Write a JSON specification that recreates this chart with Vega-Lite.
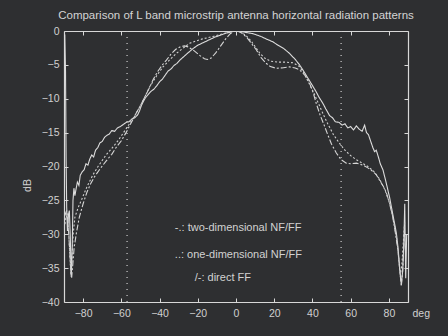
{
  "$schema": "https://vega.github.io/schema/vega-lite/v6.json",
  "width": 344,
  "height": 271,
  "autosize": {"type": "none"},
  "padding": {"left": 64, "top": 31, "right": 40, "bottom": 34},
  "background": "#2e2f31",
  "title": {"text": "Comparison of L band microstrip antenna horizontal radiation patterns", "color": "#d4d4d4", "font": "Liberation Sans", "fontSize": 11.5, "fontWeight": "normal", "offset": 5, "anchor": "middle"},
  "config": {
    "view": {"stroke": null},
    "axis": {"domainColor": "#d8d8d8", "tickColor": "#d8d8d8", "labelColor": "#d0d0d0", "titleColor": "#d0d0d0", "labelFont": "Liberation Sans", "titleFont": "Liberation Sans", "labelFontSize": 10.5, "titleFontSize": 10.5, "titleFontWeight": "normal", "grid": false, "tickSize": -4, "domainWidth": 1.2}
  },
  "datasets": {
    "curves": [
      {"s": "direct", "x": -89.6, "y": -0.5}, {"s": "direct", "x": -89.2, "y": -6}, {"s": "direct", "x": -88.9, "y": -18.5}, {"s": "direct", "x": -88.6, "y": -26}, {"s": "direct", "x": -88.2, "y": -29.5}, {"s": "direct", "x": -87.6, "y": -27}, {"s": "direct", "x": -87.2, "y": -26.5}, {"s": "direct", "x": -86.7, "y": -30.5}, {"s": "direct", "x": -86.2, "y": -36.3}, {"s": "direct", "x": -85.7, "y": -32}, {"s": "direct", "x": -85.3, "y": -25}, {"s": "direct", "x": -84.8, "y": -23.2}, {"s": "direct", "x": -84.3, "y": -24.3}, {"s": "direct", "x": -83.8, "y": -23.5}, {"s": "direct", "x": -83, "y": -22.3}, {"s": "direct", "x": -82.2, "y": -22.8}, {"s": "direct", "x": -81.5, "y": -21.3}, {"s": "direct", "x": -80.5, "y": -20.8}, {"s": "direct", "x": -79.5, "y": -20.5}, {"s": "direct", "x": -78.5, "y": -19.6}, {"s": "direct", "x": -77.5, "y": -19.8}, {"s": "direct", "x": -76.5, "y": -18.9}, {"s": "direct", "x": -75.5, "y": -18.3}, {"s": "direct", "x": -74.5, "y": -18.6}, {"s": "direct", "x": -73.5, "y": -17.6}, {"s": "direct", "x": -72.3, "y": -17.2}, {"s": "direct", "x": -71.2, "y": -16.5}, {"s": "direct", "x": -70, "y": -16.3}, {"s": "direct", "x": -68.8, "y": -15.7}, {"s": "direct", "x": -67.6, "y": -15.4}, {"s": "direct", "x": -66.3, "y": -15.2}, {"s": "direct", "x": -65, "y": -14.7}, {"s": "direct", "x": -63.5, "y": -14.8}, {"s": "direct", "x": -62, "y": -14.3}, {"s": "direct", "x": -60.5, "y": -14.1}, {"s": "direct", "x": -59, "y": -13.8}, {"s": "direct", "x": -57.5, "y": -13.5}, {"s": "direct", "x": -56, "y": -13.4}, {"s": "direct", "x": -54.5, "y": -13.0}, {"s": "direct", "x": -53, "y": -12.8}, {"s": "direct", "x": -51.5, "y": -12.4}, {"s": "direct", "x": -50.5, "y": -11.8}, {"s": "direct", "x": -49.5, "y": -11.0}, {"s": "direct", "x": -48.5, "y": -10.4}, {"s": "direct", "x": -47.5, "y": -9.9}, {"s": "direct", "x": -46, "y": -9.4}, {"s": "direct", "x": -44.5, "y": -8.9}, {"s": "direct", "x": -43, "y": -8.6}, {"s": "direct", "x": -41.5, "y": -8.1}, {"s": "direct", "x": -40, "y": -7.5}, {"s": "direct", "x": -38.5, "y": -7.1}, {"s": "direct", "x": -37, "y": -6.5}, {"s": "direct", "x": -35.5, "y": -5.9}, {"s": "direct", "x": -34, "y": -5.6}, {"s": "direct", "x": -32.5, "y": -5.1}, {"s": "direct", "x": -31, "y": -4.8}, {"s": "direct", "x": -29, "y": -4.2}, {"s": "direct", "x": -27, "y": -3.7}, {"s": "direct", "x": -25, "y": -3.2}, {"s": "direct", "x": -22.5, "y": -2.6}, {"s": "direct", "x": -20, "y": -2.1}, {"s": "direct", "x": -17, "y": -1.7}, {"s": "direct", "x": -14, "y": -1.3}, {"s": "direct", "x": -11, "y": -0.9}, {"s": "direct", "x": -8, "y": -0.6}, {"s": "direct", "x": -5, "y": -0.3}, {"s": "direct", "x": -2, "y": -0.1}, {"s": "direct", "x": 0, "y": 0},
      {"s": "direct", "x": 2, "y": -0.05}, {"s": "direct", "x": 5, "y": -0.2}, {"s": "direct", "x": 9, "y": -0.4}, {"s": "direct", "x": 13, "y": -0.8}, {"s": "direct", "x": 16, "y": -1.2}, {"s": "direct", "x": 19.3, "y": -1.6}, {"s": "direct", "x": 22, "y": -2.1}, {"s": "direct", "x": 25, "y": -2.6}, {"s": "direct", "x": 28, "y": -3.3}, {"s": "direct", "x": 31, "y": -4.2}, {"s": "direct", "x": 33, "y": -4.9}, {"s": "direct", "x": 35, "y": -5.75}, {"s": "direct", "x": 37.5, "y": -6.9}, {"s": "direct", "x": 40.3, "y": -8.2}, {"s": "direct", "x": 42, "y": -9.0}, {"s": "direct", "x": 43.5, "y": -9.8}, {"s": "direct", "x": 45.5, "y": -10.7}, {"s": "direct", "x": 47, "y": -11.5}, {"s": "direct", "x": 49, "y": -12.5}, {"s": "direct", "x": 50.5, "y": -12.8}, {"s": "direct", "x": 52, "y": -13.4}, {"s": "direct", "x": 54, "y": -13.5}, {"s": "direct", "x": 55.5, "y": -13.9}, {"s": "direct", "x": 57, "y": -13.7}, {"s": "direct", "x": 58.5, "y": -14.3}, {"s": "direct", "x": 60, "y": -14.1}, {"s": "direct", "x": 61.5, "y": -14.6}, {"s": "direct", "x": 63, "y": -14.0}, {"s": "direct", "x": 64.5, "y": -14.5}, {"s": "direct", "x": 66, "y": -14.8}, {"s": "direct", "x": 67.3, "y": -13.9}, {"s": "direct", "x": 68.3, "y": -15.0}, {"s": "direct", "x": 69.3, "y": -15.3}, {"s": "direct", "x": 70.5, "y": -16.3}, {"s": "direct", "x": 71.6, "y": -17.2}, {"s": "direct", "x": 72.5, "y": -17.8}, {"s": "direct", "x": 73.4, "y": -17.6}, {"s": "direct", "x": 74.5, "y": -18.6}, {"s": "direct", "x": 75.5, "y": -19.6}, {"s": "direct", "x": 76.9, "y": -20.5}, {"s": "direct", "x": 78.5, "y": -22.3}, {"s": "direct", "x": 80.4, "y": -24.6}, {"s": "direct", "x": 82, "y": -27}, {"s": "direct", "x": 83.9, "y": -29.8}, {"s": "direct", "x": 84.8, "y": -32}, {"s": "direct", "x": 85.6, "y": -35}, {"s": "direct", "x": 86.5, "y": -37.4}, {"s": "direct", "x": 87.2, "y": -35.5}, {"s": "direct", "x": 87.8, "y": -31.5}, {"s": "direct", "x": 88.3, "y": -25.5}, {"s": "direct", "x": 88.8, "y": -36.5}, {"s": "direct", "x": 89.3, "y": -30},
      {"s": "two", "x": -90, "y": -29}, {"s": "two", "x": -89.3, "y": -27}, {"s": "two", "x": -88.6, "y": -26.5}, {"s": "two", "x": -88, "y": -28}, {"s": "two", "x": -87.3, "y": -31}, {"s": "two", "x": -86.6, "y": -34.5}, {"s": "two", "x": -86, "y": -36.4}, {"s": "two", "x": -85.4, "y": -34.5}, {"s": "two", "x": -84.7, "y": -32}, {"s": "two", "x": -83.5, "y": -29.8}, {"s": "two", "x": -82, "y": -27.5}, {"s": "two", "x": -80, "y": -25.5}, {"s": "two", "x": -78, "y": -23.8}, {"s": "two", "x": -76, "y": -22.5}, {"s": "two", "x": -74, "y": -21.5}, {"s": "two", "x": -71, "y": -20.3}, {"s": "two", "x": -68, "y": -19.2}, {"s": "two", "x": -65, "y": -18.2}, {"s": "two", "x": -62.5, "y": -17.1}, {"s": "two", "x": -60, "y": -16.2}, {"s": "two", "x": -57.5, "y": -15.0}, {"s": "two", "x": -55.5, "y": -13.9}, {"s": "two", "x": -54, "y": -13.1}, {"s": "two", "x": -52, "y": -12.0}, {"s": "two", "x": -50, "y": -11.0}, {"s": "two", "x": -48, "y": -9.9}, {"s": "two", "x": -45.5, "y": -8.5}, {"s": "two", "x": -43.4, "y": -7.2}, {"s": "two", "x": -41, "y": -6.0}, {"s": "two", "x": -38.5, "y": -5.0}, {"s": "two", "x": -36.4, "y": -4.3}, {"s": "two", "x": -34, "y": -3.4}, {"s": "two", "x": -31.5, "y": -2.7}, {"s": "two", "x": -29, "y": -2.3}, {"s": "two", "x": -27, "y": -2.2}, {"s": "two", "x": -25, "y": -2.35}, {"s": "two", "x": -22, "y": -2.9}, {"s": "two", "x": -19, "y": -3.6}, {"s": "two", "x": -16.5, "y": -4.1}, {"s": "two", "x": -15, "y": -4.2}, {"s": "two", "x": -13, "y": -4.0}, {"s": "two", "x": -10.5, "y": -3.2}, {"s": "two", "x": -8, "y": -2.2}, {"s": "two", "x": -5.5, "y": -1.2}, {"s": "two", "x": -3, "y": -0.4}, {"s": "two", "x": -1, "y": 0},
      {"s": "two", "x": 1, "y": -0.05}, {"s": "two", "x": 3, "y": -0.3}, {"s": "two", "x": 5.5, "y": -0.9}, {"s": "two", "x": 8, "y": -1.8}, {"s": "two", "x": 10.7, "y": -2.8}, {"s": "two", "x": 13, "y": -3.9}, {"s": "two", "x": 15.9, "y": -4.8}, {"s": "two", "x": 18, "y": -5.25}, {"s": "two", "x": 21, "y": -5.5}, {"s": "two", "x": 24, "y": -5.45}, {"s": "two", "x": 28, "y": -5.3}, {"s": "two", "x": 31, "y": -5.45}, {"s": "two", "x": 33.3, "y": -5.75}, {"s": "two", "x": 36, "y": -6.5}, {"s": "two", "x": 38.5, "y": -7.7}, {"s": "two", "x": 40.5, "y": -9.2}, {"s": "two", "x": 42, "y": -10.7}, {"s": "two", "x": 44, "y": -12.4}, {"s": "two", "x": 46, "y": -13.8}, {"s": "two", "x": 48, "y": -15.3}, {"s": "two", "x": 50, "y": -16.7}, {"s": "two", "x": 52.5, "y": -18.0}, {"s": "two", "x": 55, "y": -19.0}, {"s": "two", "x": 57.7, "y": -19.5}, {"s": "two", "x": 60, "y": -19.6}, {"s": "two", "x": 63, "y": -19.5}, {"s": "two", "x": 66.4, "y": -19.8}, {"s": "two", "x": 69, "y": -20.2}, {"s": "two", "x": 71.5, "y": -20.7}, {"s": "two", "x": 73.4, "y": -21.2}, {"s": "two", "x": 75.5, "y": -22.2}, {"s": "two", "x": 77.2, "y": -23}, {"s": "two", "x": 78.6, "y": -23.8}, {"s": "two", "x": 80.4, "y": -25.5}, {"s": "two", "x": 82.1, "y": -27.6}, {"s": "two", "x": 83.4, "y": -29.8}, {"s": "two", "x": 84.7, "y": -32.3}, {"s": "two", "x": 85.6, "y": -35}, {"s": "two", "x": 86.5, "y": -37.7}, {"s": "two", "x": 87.3, "y": -35}, {"s": "two", "x": 88, "y": -30},
      {"s": "one", "x": -89.5, "y": -28.5}, {"s": "one", "x": -88.8, "y": -27.3}, {"s": "one", "x": -88.2, "y": -27.8}, {"s": "one", "x": -87.5, "y": -30}, {"s": "one", "x": -86.9, "y": -33.5}, {"s": "one", "x": -86.4, "y": -36.0}, {"s": "one", "x": -85.9, "y": -34}, {"s": "one", "x": -85.2, "y": -30}, {"s": "one", "x": -84.3, "y": -27.5}, {"s": "one", "x": -82.5, "y": -26}, {"s": "one", "x": -80.8, "y": -24.9}, {"s": "one", "x": -78, "y": -23}, {"s": "one", "x": -75, "y": -21.3}, {"s": "one", "x": -72.2, "y": -20}, {"s": "one", "x": -68, "y": -18.3}, {"s": "one", "x": -64.3, "y": -17.1}, {"s": "one", "x": -61.5, "y": -16.1}, {"s": "one", "x": -59.1, "y": -15.1}, {"s": "one", "x": -55.5, "y": -13.6}, {"s": "one", "x": -52.1, "y": -12.1}, {"s": "one", "x": -48.5, "y": -10.2}, {"s": "one", "x": -45.1, "y": -8.2}, {"s": "one", "x": -41.5, "y": -6.6}, {"s": "one", "x": -38.2, "y": -5.3}, {"s": "one", "x": -34.5, "y": -4.2}, {"s": "one", "x": -31.2, "y": -3.3}, {"s": "one", "x": -27.5, "y": -2.5}, {"s": "one", "x": -24.2, "y": -1.8}, {"s": "one", "x": -18, "y": -1.2}, {"s": "one", "x": -12, "y": -0.8}, {"s": "one", "x": -6, "y": -0.35}, {"s": "one", "x": -1.7, "y": 0},
      {"s": "one", "x": 2, "y": -0.1}, {"s": "one", "x": 5, "y": -0.6}, {"s": "one", "x": 8, "y": -1.5}, {"s": "one", "x": 10.5, "y": -2.5}, {"s": "one", "x": 12.5, "y": -3.3}, {"s": "one", "x": 15, "y": -4.0}, {"s": "one", "x": 18, "y": -4.45}, {"s": "one", "x": 22, "y": -4.6}, {"s": "one", "x": 26, "y": -4.6}, {"s": "one", "x": 30, "y": -4.7}, {"s": "one", "x": 33, "y": -5.2}, {"s": "one", "x": 35.5, "y": -6.2}, {"s": "one", "x": 38, "y": -7.6}, {"s": "one", "x": 40.5, "y": -9.0}, {"s": "one", "x": 43, "y": -10.6}, {"s": "one", "x": 45.5, "y": -12.2}, {"s": "one", "x": 48, "y": -13.7}, {"s": "one", "x": 51, "y": -15.3}, {"s": "one", "x": 54.2, "y": -16.6}, {"s": "one", "x": 57, "y": -17.6}, {"s": "one", "x": 60, "y": -18.4}, {"s": "one", "x": 63, "y": -19.0}, {"s": "one", "x": 66, "y": -19.5}, {"s": "one", "x": 69, "y": -20}, {"s": "one", "x": 72, "y": -20.7}, {"s": "one", "x": 75, "y": -21.8}, {"s": "one", "x": 78, "y": -23.5}, {"s": "one", "x": 80.5, "y": -25.5}, {"s": "one", "x": 82.5, "y": -28}, {"s": "one", "x": 84, "y": -30.5}, {"s": "one", "x": 85.2, "y": -33.5}, {"s": "one", "x": 86, "y": -36}, {"s": "one", "x": 86.8, "y": -34.5}, {"s": "one", "x": 87.6, "y": -31}, {"s": "one", "x": 88.3, "y": -28}
    ],
    "marks": [{"v": -57}, {"v": 55}],
    "notes": [
      {"t": "-.: two-dimensional NF/FF", "x": -32, "y": -29.1},
      {"t": "..: one-dimensional NF/FF", "x": -32, "y": -33.0},
      {"t": "/-: direct FF", "x": -21.6, "y": -36.4}
    ]
  },
  "layer": [
    {
      "data": {"name": "marks"},
      "mark": {"type": "rule", "color": "#cfcfcf", "strokeDash": [1, 5], "strokeWidth": 1.2},
      "encoding": {
        "x": {"field": "v", "type": "quantitative", "scale": {"domain": [-90, 90], "nice": false, "zero": false}, "axis": {"orient": "top", "labels": false, "title": null, "values": [-80, -60, -40, -20, 0, 20, 40, 60, 80]}}
      }
    },
    {
      "data": {"name": "curves"},
      "mark": {"type": "line", "strokeWidth": 1.1, "clip": true},
      "encoding": {
        "x": {"field": "x", "type": "quantitative", "scale": {"domain": [-90, 90], "nice": false, "zero": false}, "axis": {"orient": "bottom", "values": [-80, -60, -40, -20, 0, 20, 40, 60, 80], "labelPadding": 10, "title": "deg", "titleX": 348, "titleY": 6, "titleAlign": "left", "titleAnchor": null}},
        "y": {"field": "y", "type": "quantitative", "scale": {"domain": [-40, 0], "nice": false, "zero": false}, "axis": {"orient": "left", "values": [-40, -35, -30, -25, -20, -15, -10, -5, 0], "labelPadding": 9, "title": "dB", "titleX": -32, "titleY": 154, "titlePadding": 0}},
        "color": {"field": "s", "type": "nominal", "scale": {"domain": ["two", "one", "direct"], "range": ["#d6d6d6", "#d0d0d0", "#dcdcdc"]}, "legend": null},
        "strokeDash": {"field": "s", "type": "nominal", "scale": {"domain": ["two", "one", "direct"], "range": [[6, 2, 2, 2], [2, 2], [1, 0]]}, "legend": null}
      }
    },
    {
      "data": {"name": "notes"},
      "mark": {"type": "text", "align": "left", "baseline": "middle", "color": "#d2d2d2", "font": "Liberation Sans", "fontSize": 11},
      "encoding": {
        "x": {"field": "x", "type": "quantitative", "axis": null},
        "y": {"field": "y", "type": "quantitative", "axis": {"orient": "right", "labels": false, "title": null, "values": [-40, -35, -30, -25, -20, -15, -10, -5, 0]}},
        "text": {"field": "t"}
      }
    }
  ]
}
